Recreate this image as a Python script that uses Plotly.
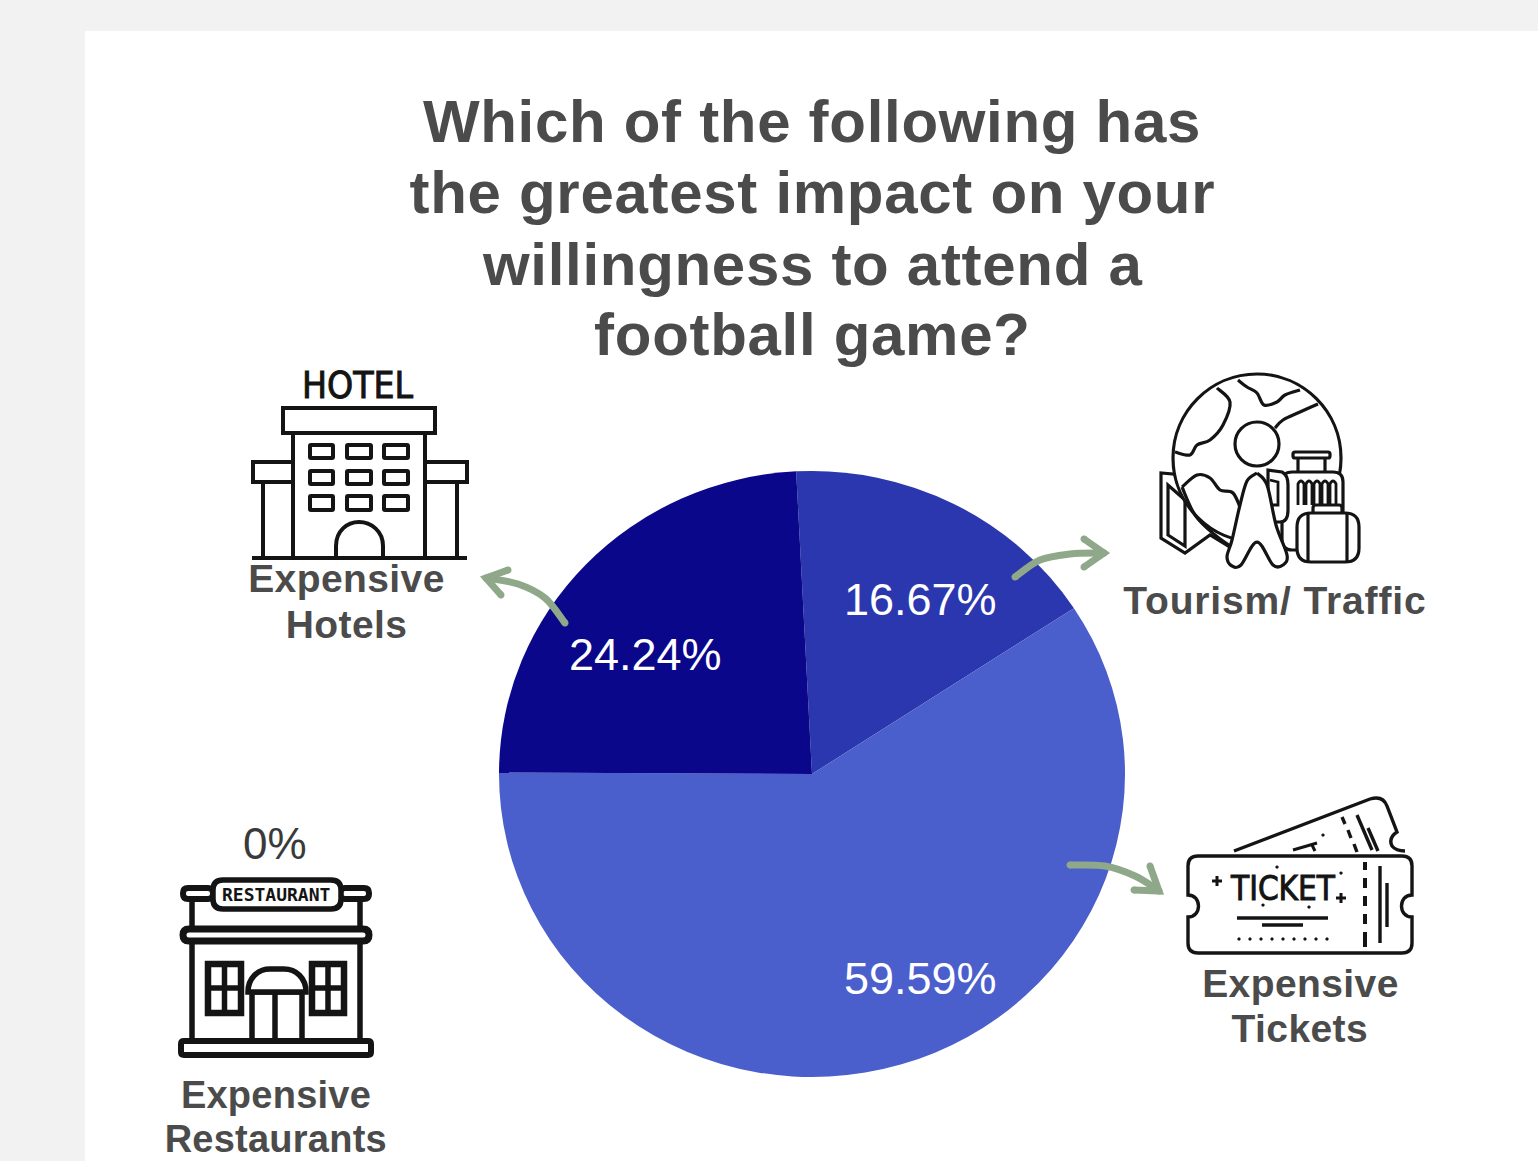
import re
import plotly.graph_objects as go

W, H = 1538, 1161

# Survey results
categories = ["Tourism/ Traffic", "Expensive Tickets", "Expensive Hotels", "Expensive Restaurants"]
shares = [16.67, 59.59, 24.24, 0]
slice_colors = ["#2B37AE", "#4A5ECC", "#0A078A", "#7F8FE0"]

title_lines = [
    "Which of the following has",
    "the greatest impact on your",
    "willingness to attend a",
    "football game?",
]

INK = "#141414"
GREY = "#4b4b4b"
SAGE = "#8FA88A"
K = 0.5523


def px(x, y):
    return x / W, 1 - y / H


def to_paper(path):
    """Convert a pixel-space M/L/C/Q/Z path into paper coordinates."""
    out, is_x = [], True
    for tok in re.findall(r"[MLCQZ]|-?[\d.]+", path):
        if tok in "MLCQZ":
            out.append(tok)
        else:
            v = float(tok)
            out.append(f"{v / W:.5f}" if is_x else f"{1 - v / H:.5f}")
            is_x = not is_x
    return " ".join(out)


shapes = []


def stroke(path, width=3, color=INK, fill=None):
    shapes.append(dict(
        type="path", path=to_paper(path), xref="paper", yref="paper", layer="above",
        line=dict(color=color, width=width),
        fillcolor=fill if fill else "rgba(0,0,0,0)",
    ))


def round_rect(x0, y0, x1, y1, r=0):
    if r == 0:
        return f"M{x0} {y0} L{x1} {y0} L{x1} {y1} L{x0} {y1} Z"
    return (f"M{x0+r} {y0} L{x1-r} {y0} Q{x1} {y0} {x1} {y0+r} L{x1} {y1-r} Q{x1} {y1} {x1-r} {y1} "
            f"L{x0+r} {y1} Q{x0} {y1} {x0} {y1-r} L{x0} {y0+r} Q{x0} {y0} {x0+r} {y0} Z")


def circle(cx, cy, r):
    c = K * r
    return (f"M{cx-r} {cy} C{cx-r} {cy-c} {cx-c} {cy-r} {cx} {cy-r} C{cx+c} {cy-r} {cx+r} {cy-c} {cx+r} {cy} "
            f"C{cx+r} {cy+c} {cx+c} {cy+r} {cx} {cy+r} C{cx-c} {cy+r} {cx-r} {cy+c} {cx-r} {cy} Z")


def line(x0, y0, x1, y1):
    return f"M{x0} {y0} L{x1} {y1}"


def smooth(pts):
    """Catmull-Rom curve through the given points."""
    d = f"M{pts[0][0]} {pts[0][1]}"
    for i in range(len(pts) - 1):
        p0 = pts[max(i - 1, 0)]
        p1 = pts[i]
        p2 = pts[i + 1]
        p3 = pts[min(i + 2, len(pts) - 1)]
        d += (f" C{p1[0] + (p2[0]-p0[0])/6:.1f} {p1[1] + (p2[1]-p0[1])/6:.1f}"
              f" {p2[0] - (p3[0]-p1[0])/6:.1f} {p2[1] - (p3[1]-p1[1])/6:.1f} {p2[0]} {p2[1]}")
    return d


def dot(x, y, r=1.6, color=INK):
    stroke(circle(x, y, r), 0.1, color, color)


def arrow(path, start, tip, barb_a, barb_b):
    stroke(path, 7, SAGE)
    stroke(f"M{barb_a[0]} {barb_a[1]} L{tip[0]} {tip[1]} L{barb_b[0]} {barb_b[1]}", 7, SAGE)
    for p in (start, tip, barb_a, barb_b):
        dot(p[0], p[1], 3.5, SAGE)


# Card on the grey page
shapes.append(dict(type="rect", xref="paper", yref="paper", layer="below",
                   x0=85 / W, x1=1, y0=0, y1=1 - 31 / H,
                   fillcolor="white", line=dict(width=0)))

# Hotel icon
HW = 4
stroke(round_rect(283, 408, 435, 433), HW)
stroke(round_rect(253, 462, 293, 482), HW)
stroke(round_rect(425, 462, 467, 482), HW)
stroke(line(293, 433, 293, 558), HW)
stroke(line(425, 433, 425, 558), HW)
stroke(line(263, 482, 263, 558), HW)
stroke(line(457, 482, 457, 558), HW)
stroke(line(252, 558, 467, 558), HW)
for wx0, wx1 in [(310, 333), (347, 371), (384, 408)]:
    for wy0, wy1 in [(445, 458), (471, 484), (496, 510)]:
        stroke(round_rect(wx0, wy0, wx1, wy1, 1), HW)
stroke("M336 558 L336 546 C336 531 347 522 359 522 C371 522 383 531 383 546 L383 558", HW)

# Globe and luggage icon
TW = 3.2
stroke("M1161 473 L1161 538 L1185 553 L1210 535 L1230 547 L1240 552 L1240 480 L1161 473 Z", TW, INK, "white")
stroke("M1168 485 L1168 535 L1185 546 L1185 500 Z", TW)
stroke(circle(1257, 458, 84), TW, INK, "white")
stroke(smooth([(1238, 380), (1247, 387), (1257, 393), (1264, 405), (1277, 402), (1285, 395), (1300, 390)]), TW)
stroke(smooth([(1217, 388), (1230, 402), (1223, 425), (1210, 440), (1197, 445), (1190, 455), (1175, 452)]), TW)
stroke(smooth([(1318, 404), (1300, 412), (1283, 420), (1275, 428)]), TW)
stroke(smooth([(1182, 487), (1197, 475), (1210, 478), (1220, 490), (1233, 493), (1242, 512)]), TW)
stroke(smooth([(1182, 487), (1195, 515), (1215, 535), (1233, 548)]), TW)
stroke(circle(1257, 444, 22), TW, INK, "white")
# suitcase
stroke(round_rect(1293, 452, 1330, 458, 2), TW)
stroke(line(1298, 458, 1298, 472), TW)
stroke(line(1325, 458, 1325, 472), TW)
stroke(round_rect(1282, 472, 1343, 550, 10), TW, INK, "white")
for rx in [1298, 1306, 1314, 1322, 1330]:
    stroke(f"M{rx} 505 L{rx} 484 Q{rx+3} 478 {rx+6} 484 L{rx+6} 505", 2.8)
# backpack
stroke("M1268 470 L1282 472 Q1288 475 1288 485 L1288 510 Q1288 522 1280 522 L1268 522 Z", TW, INK, "white")
stroke("M1270 480 L1278 482 L1278 505 L1272 505", 2.8)
# figure
stroke(smooth([(1257, 473), (1247, 481), (1240, 505), (1232, 540), (1227, 557), (1232, 566), (1241, 565),
               (1257, 542), (1273, 565), (1283, 565), (1287, 555), (1276, 525), (1267, 485), (1257, 473)]),
       TW, INK, "white")
# travel bag
stroke(round_rect(1313, 505, 1342, 515, 3), TW, INK, "white")
stroke(round_rect(1297, 513, 1359, 562, 14), TW, INK, "white")
stroke(line(1308, 513, 1308, 562), TW)
stroke(line(1347, 513, 1347, 562), TW)

# Ticket icon
stroke("M1234 851 L1370 799 Q1383 795 1387 806 L1397 832 Q1388 838 1392 846 Q1396 851 1405 851", 3.4)
for seg in [(1342, 817, 1345, 824), (1348, 830, 1351, 838), (1354, 844, 1357, 852)]:
    stroke(line(*seg), 3.4)
stroke(line(1357, 815, 1372, 850), 3.4)
stroke(line(1368, 828, 1378, 851), 3.4)
stroke(line(1293, 850, 1317, 843), 3)
stroke(line(1312, 845, 1315, 851), 3)
dot(1323, 835)
stroke("M1198 856 L1402 856 Q1412 856 1412 866 L1412 895 C1398 895 1398 917 1412 917 L1412 943 "
       "Q1412 953 1402 953 L1198 953 Q1188 953 1188 943 L1188 917 C1202 917 1202 895 1188 895 "
       "L1188 866 Q1188 856 1198 856 Z", 3.4, INK, "white")
for dy0, dy1 in [(862, 870), (878, 888), (896, 906), (914, 924), (932, 947)]:
    stroke(line(1365, dy0, 1365, dy1), 4)
stroke(line(1380, 866, 1380, 943), 3.4)
stroke(line(1387, 883, 1387, 927), 3.4)
for cx_, cy_ in [(1217, 881), (1341, 898)]:
    stroke(line(cx_ - 5, cy_, cx_ + 5, cy_), 3)
    stroke(line(cx_, cy_ - 5, cx_, cy_ + 5), 3)
stroke(line(1237, 918, 1328, 918), 3.4)
stroke(line(1262, 925, 1303, 925), 3.4)
for i in range(9):
    dot(1239 + i * 11, 939, 1.6)
for cx_, cy_ in [(1277, 867), (1341, 873), (1263, 905), (1309, 907)]:
    dot(cx_, cy_)

# Restaurant icon
stroke(line(192, 901, 192, 1040), 5.5)
stroke(line(360, 901, 360, 1040), 5.5)
stroke(round_rect(183, 888, 213, 899, 5), 6)
stroke(round_rect(340, 888, 369, 899, 5), 6)
stroke(round_rect(213, 880, 341, 909, 10), 5.5, INK, "white")
stroke(round_rect(183, 929, 369, 941, 6), 7, INK, "white")
stroke(round_rect(181, 1041, 371, 1055, 3), 6, INK, "white")
for wx0, wx1 in [(208, 241), (312, 344)]:
    stroke(round_rect(wx0, 964, wx1, 1013), 6.5)
    stroke(line((wx0 + wx1) / 2, 964, (wx0 + wx1) / 2, 1013), 5.5)
    stroke(line(wx0, 988, wx1, 988), 5.5)
stroke("M252 1041 L252 992 L302 992 L302 1041", 5.5)
stroke(line(275, 992, 275, 1041), 5.5)
stroke("M248 992 C248 978 258 969 270 969 L284 969 C296 969 306 978 306 992 Z", 5.5, INK, "white")

# Arrows from each slice to its label
arrow(smooth([(565, 623), (545, 598), (518, 584), (487, 578)]),
      (565, 623), (486, 578), (508, 570), (501, 595))
arrow(smooth([(1015, 577), (1040, 560), (1070, 554), (1103, 553)]),
      (1015, 577), (1104, 553), (1084, 539), (1084, 567))
arrow(smooth([(1070, 865), (1105, 866), (1135, 876), (1158, 890)]),
      (1070, 865), (1159, 891), (1150, 866), (1134, 890))

annotations = []


def text(s, x, y, size, color=GREY, bold=False, family="Liberation Sans"):
    ax, ay = px(x, y)
    annotations.append(dict(
        text=f"<b>{s}</b>" if bold else s, x=ax, y=ay, xref="paper", yref="paper",
        xanchor="center", yanchor="middle", showarrow=False,
        font=dict(size=size, color=color, family=family),
    ))


for line_text, y in zip(title_lines, [122, 193, 264, 335]):
    text(line_text, 812, y, 60, bold=True)

text("Expensive", 346, 578, 39, bold=True)
text("Hotels", 346, 624, 39, bold=True)
text(categories[0], 1275, 600, 39, bold=True)
text("Expensive", 1300, 983, 39, bold=True)
text("Tickets", 1300, 1028, 39, bold=True)
text("Expensive", 276, 1095, 38, bold=True)
text("Restaurants", 276, 1139, 38, bold=True)

# Value labels
text(f"{shares[0]}%", 920, 599, 45, color="white")
text(f"{shares[1]}%", 920, 978, 45, color="white")
text(f"{shares[2]}%", 645, 654, 45, color="white")
text(f"{shares[3]}%", 275, 844, 44, color="#3a3a3a")

# Lettering on the icons
text("HOTEL", 358, 386, 37, color=INK, family="Liberation Sans Narrow, DejaVu Sans Condensed")
text("TICKET", 1283, 888, 33, color=INK, family="Liberation Sans Narrow, DejaVu Sans Condensed")
text("RESTAURANT", 276, 894, 18, color=INK, bold=True, family="DejaVu Sans Mono")

cx, cy, r = 812, 774, 313
Y_SQUASH = 303 / 313  # the pie is drawn slightly wider than tall

fig = go.Figure(go.Pie(
    labels=categories,
    values=shares,
    sort=False,
    direction="clockwise",
    rotation=-2.9,
    marker=dict(colors=slice_colors, line=dict(width=0)),
    textinfo="none",
    hoverinfo="label+percent",
    showlegend=False,
    domain=dict(x=[(cx - r) / W, (cx + r) / W], y=[1 - (cy + r) / H, 1 - (cy - r) / H]),
))
fig.update_layout(
    width=W, height=H,
    margin=dict(l=0, r=0, t=0, b=0),
    paper_bgcolor="#F2F2F2",
    shapes=shapes,
    annotations=annotations,
    showlegend=False,
)

# Flatten the pie vertically, open up the tracking of the bold labels,
# and give the narrow icon lettering a little more weight
post = f"""
var root = document.getElementById('{{plot_id}}');
root.querySelectorAll('.pielayer').forEach(function (g) {{
  g.setAttribute('transform', 'translate(0,{cy}) scale(1,{Y_SQUASH:.4f}) translate(0,{-cy})');
}});
root.querySelectorAll('.annotation-text').forEach(function (t) {{
  var size = parseFloat(t.style.fontSize);
  var content = t.textContent;
  if (size === 60) t.style.letterSpacing = '0.7px';
  else if (size === 39) t.style.letterSpacing = content.indexOf('Tourism') === 0 ? '0.85px' : '0.4px';
  else if (size === 38) t.style.letterSpacing = '0.25px';
  if (content === 'HOTEL' || content === 'TICKET') {{
    t.style.stroke = '{INK}';
    t.style.strokeWidth = '0.9px';
  }}
}});
"""
fig.write_html("out.html", post_script=post)
